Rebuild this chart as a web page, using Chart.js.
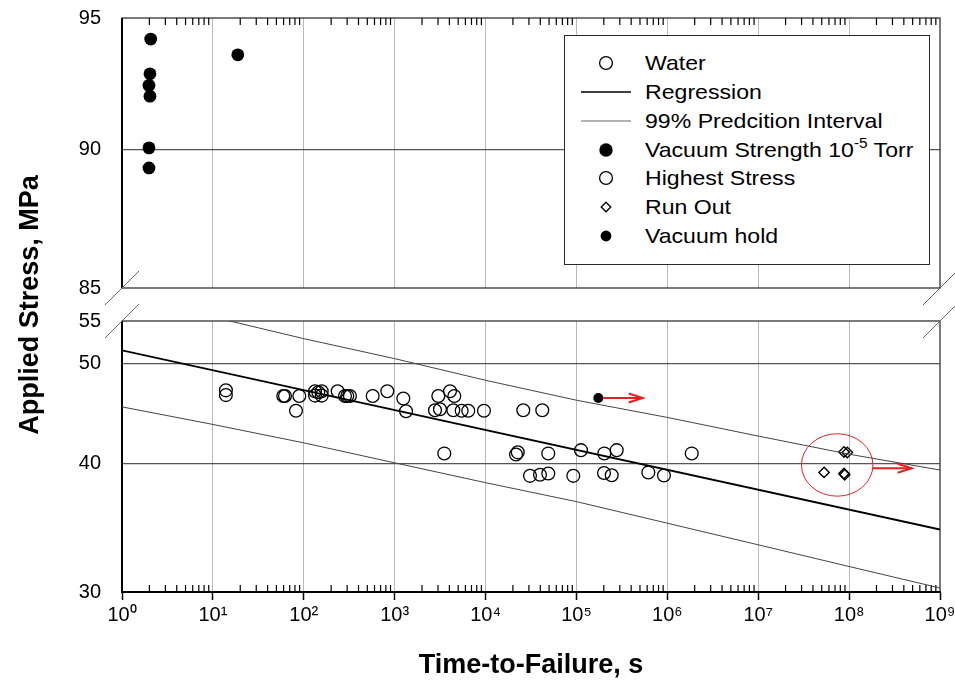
<!DOCTYPE html>
<html>
<head>
<meta charset="utf-8">
<script src="https://cdn.jsdelivr.net/npm/chart.js@4.4.1/dist/chart.umd.min.js"></script>
<style>
  html, body { margin:0; padding:0; background:#fff; }
  #wrap { position:relative; width:955px; height:688px; overflow:hidden; background:#fff;
          font-family:'Liberation Sans', Arial, Helvetica, sans-serif; }
  #wrap canvas { position:absolute; left:0; top:0; }
  #legend { position:absolute; left:564px; top:35px; width:364px; height:228px;
            border:1.6px solid #2a2a2a; background:#fff; }
  .lg-row { position:absolute; left:0; width:100%; height:28px; }
  .lg-sym { position:absolute; left:14px; top:0; width:54px; height:28px; }
  .lg-text { position:absolute; left:80px; top:0; line-height:28px; font-size:21px; color:#000;
             white-space:nowrap; transform:scaleX(1.1); transform-origin:0 50%; }
  .lg-text sup { font-size:14px; vertical-align:0; position:relative; top:-9px; }
</style>
</head>
<body>
<div id="wrap">
  <canvas id="bottomChart" width="955" height="688"></canvas>
  <canvas id="topChart" width="955" height="688"></canvas>
  <div id="legend"></div>
</div>
<script>
// ---------------- data ----------------
const xDecades = [1, 10, 100, 1e3, 1e4, 1e5, 1e6, 1e7, 1e8, 1e9];
const minorMultipliers = [2, 3, 4, 5, 6, 7, 8, 9];
const topYTicks = [85, 90, 95];
const bottomYTicks = [30, 40, 50, 55];
const topYGrid = [90];
const bottomYGrid = [40, 50];

const xTitle = 'Time-to-Failure, s';
const yTitle = 'Applied Stress, MPa';

// Water (open circles)
const waterTime = [13.9, 59.5, 62.1, 89.3, 82.1, 132.9, 157.5, 284, 301, 322, 573, 1245, 1333,
  3020, 4530, 2778, 3153, 4418, 5459, 6455, 9608, 26000, 42070, 3516, 21630, 22590, 48980,
  112200, 30830, 39700, 49000, 92300, 201000, 244300, 202500, 277300, 617600, 918000, 1855000];
const waterStress = [46.6, 46.5, 46.5, 46.5, 45.0, 46.55, 46.55, 46.5, 46.5, 46.5, 46.5, 46.25, 44.95,
  46.5, 46.5, 45.05, 45.15, 45.05, 45.0, 45.0, 45.0, 45.05, 45.05, 40.9, 40.8, 41.0, 40.9,
  41.2, 38.9, 39.0, 39.1, 38.9, 39.15, 38.95, 40.9, 41.2, 39.2, 38.93, 40.9];

// Highest Stress (open circles)
const highestTime = [13.9, 132.9, 144.5, 157.5, 236, 830, 4063];
const highestStress = [47.1, 47.0, 46.9, 47.0, 47.0, 47.0, 47.0];

// Vacuum Strength 10^-5 Torr (large filled circles, upper panel)
const vacuumTime = [2.07, 2.03, 1.98, 2.03, 1.98, 1.98, 18.8];
const vacuumStress = [94.18, 92.84, 92.40, 91.99, 90.05, 89.31, 93.57];

// Vacuum hold (small filled circle)
const holdTime = [1.74e5];
const holdStress = [46.3];

// Run Out (diamonds)
const runOutTime = [8.79e7, 9.55e7, 5.30e7, 8.79e7, 8.94e7];
const runOutStress = [41.03, 40.98, 39.2, 39.11, 38.99];

// Regression and 99% prediction interval
const regTime = [1, 1e9];
const regStress = [51.5, 34.5];
const piTime = xDecades;
const piUpper = [58.5, 55.5, 52.87, 50.56, 48.17, 46.07, 44.33, 42.52, 40.83, 39.41];
const piLower = [45.39, 43.64, 41.88, 40.05, 38.31, 36.72, 34.99, 33.34, 31.76, 30.27];

// red annotations (data coordinates)
const holdArrowTime = [1.96e5, 5.36e5];
const holdArrowStress = 46.3;
const runOutArrowTime = [1.82e8, 4.88e8];
const runOutArrowStress = 39.56;
const runOutRingTime = [2.99e7, 1.83e8];
const runOutRingStress = [37.17, 42.74];

// ---------------- helpers ----------------
const FONT = "'Liberation Sans', Arial, Helvetica, sans-serif";
const SUP = ['\u2070','\u00B9','\u00B2','\u00B3','\u2074','\u2075','\u2076','\u2077','\u2078','\u2079'];
const supExp = v => String(Math.round(Math.log10(v))).split('').map(d => SUP[+d]).join('');
const pts = (xs, ys) => xs.map((x, i) => ({x: x, y: ys[i]}));
const xMin = xDecades[0], xMax = xDecades[xDecades.length - 1];
const CLEAR = 'rgba(0,0,0,0)';
const minorValues = [];
xDecades.slice(0, -1).forEach(d => minorMultipliers.forEach(m => minorValues.push(d * m)));

// minor log ticks drawn as vertical 'line' markers sitting on the panel edge,
// clipped to the plot area so only the inner half shows
const minorTickSet = yEdge => ({
  label: 'minor ticks', data: minorValues.map(v => ({x: v, y: yEdge})),
  pointStyle: 'line', pointRotation: 90, pointRadius: 7, pointBorderWidth: 1.2,
  pointBorderColor: '#000', pointBackgroundColor: '#000', showLine: false, clip: 0
});

function makeFramePlugin(panel, topArea) {
  const isTop = panel === 'top';
  return {
    id: 'frame' + panel,
    beforeDatasetsDraw(chart) {
      const {ctx, chartArea: a} = chart;
      ctx.save();
      ctx.strokeStyle = '#333'; ctx.lineWidth = 1.3;
      ctx.strokeRect(a.left, a.top, a.right - a.left, a.bottom - a.top);
      ctx.strokeStyle = '#000'; ctx.lineWidth = 2;
      ctx.beginPath();
      ctx.moveTo(a.left, a.top); ctx.lineTo(a.left, a.bottom + (isTop ? 0 : 1));
      if (!isTop) { ctx.moveTo(a.left - 1, a.bottom); ctx.lineTo(a.right + 1, a.bottom); }
      ctx.stroke();
      // axis-break marks
      ctx.strokeStyle = '#666'; ctx.lineWidth = 1;
      const cy = isTop ? a.bottom : a.top;
      ctx.beginPath();
      [a.left, a.right].forEach(cx => { ctx.moveTo(cx - 17, cy + 17); ctx.lineTo(cx + 17, cy - 17); });
      ctx.stroke();
      ctx.restore();
    },
    afterDatasetsDraw(chart) {
      if (isTop) return;
      const {ctx, scales: {x, y}} = chart;
      ctx.save();
      ctx.strokeStyle = '#e42121';
      const l = x.getPixelForValue(runOutRingTime[0]), r = x.getPixelForValue(runOutRingTime[1]);
      const t = y.getPixelForValue(runOutRingStress[1]), b = y.getPixelForValue(runOutRingStress[0]);
      ctx.lineWidth = 1;
      ctx.beginPath();
      ctx.ellipse((l + r) / 2, (t + b) / 2, (r - l) / 2, (b - t) / 2, 0, 0, Math.PI * 2);
      ctx.stroke();
      ctx.lineWidth = 2;
      [[holdArrowTime, holdArrowStress], [runOutArrowTime, runOutArrowStress]].forEach(([ts, s]) => {
        const x1 = x.getPixelForValue(ts[0]), x2 = x.getPixelForValue(ts[1]), yy = y.getPixelForValue(s);
        ctx.beginPath(); ctx.moveTo(x1, yy); ctx.lineTo(x2, yy); ctx.stroke();
        ctx.beginPath(); ctx.moveTo(x2 - 14, yy - 4.5); ctx.lineTo(x2, yy); ctx.lineTo(x2 - 14, yy + 4.5); ctx.stroke();
      });
      ctx.restore();
    },
    afterDraw(chart) {
      if (isTop || !topArea) return;
      const {ctx, chartArea: a} = chart;
      ctx.save();
      const yc = (topArea.top + a.bottom) / 2;
      ctx.translate(37.5, yc);
      ctx.rotate(-Math.PI / 2);
      ctx.font = 'bold 27px ' + FONT;
      ctx.fillStyle = '#000';
      ctx.textAlign = 'center';
      ctx.textBaseline = 'alphabetic';
      ctx.fillText(yTitle, 0, 0);
      ctx.restore();
    }
  };
}

function makeOptions(panel) {
  const isTop = panel === 'top';
  const yTicks = isTop ? topYTicks : bottomYTicks;
  const yGrid = isTop ? topYGrid : bottomYGrid;
  return {
    responsive: false, animation: false, events: [],
    layout: { padding: isTop ? {left: 0, right: 15, top: 18, bottom: 400}
                             : {left: 0, right: 15, top: 321, bottom: 0} },
    plugins: { legend: {display: false}, tooltip: {enabled: false} },
    scales: {
      x: {
        type: 'logarithmic', min: xMin, max: xMax, position: 'bottom',
        afterBuildTicks(s) { s.ticks = xDecades.map(v => ({value: v, major: true})); },
        afterFit(s) { s.paddingLeft = 0; s.paddingRight = 0; s.height = isTop ? 0 : 96; },
        grid: {
          color: c => (c.tick && c.tick.value > xMin && c.tick.value < xMax) ? '#b8b8b8' : CLEAR,
          lineWidth: 1, drawTicks: !isTop, tickLength: 8, tickWidth: 1.5, tickColor: '#000'
        },
        border: {display: false},
        ticks: {
          display: !isTop, autoSkip: false, maxRotation: 0, minRotation: 0, padding: 3,
          color: '#000', font: {family: FONT, size: 20},
          callback: v => '10' + supExp(v)
        },
        title: { display: !isTop, text: xTitle, color: '#000',
                 font: {family: FONT, size: 27, weight: 'bold'}, padding: {top: 0, bottom: 6} }
      },
      y: {
        type: 'logarithmic', min: yTicks[0], max: yTicks[yTicks.length - 1],
        afterBuildTicks(s) { s.ticks = yTicks.map(v => ({value: v})); },
        afterFit(s) { s.width = 122; s.paddingTop = 0; s.paddingBottom = 0; },
        grid: { color: c => (c.tick && yGrid.includes(c.tick.value)) ? '#555' : CLEAR,
                lineWidth: 1.2, drawTicks: false },
        border: {display: false},
        ticks: { padding: 21, color: '#000', font: {family: FONT, size: 20}, autoSkip: false,
                 callback: v => String(v) }
      }
    }
  };
}

const openCircle = {pointStyle: 'circle', pointRadius: 6.4, pointBorderWidth: 1.3,
                    pointBorderColor: '#000', pointBackgroundColor: CLEAR, showLine: false};

// ---------------- top panel ----------------
const topChart = new Chart(document.getElementById('topChart'), {
  type: 'scatter',
  data: { datasets: [
    { label: 'Vacuum Strength 10^-5 Torr', data: pts(vacuumTime, vacuumStress),
      pointStyle: 'circle', pointRadius: 6.4, pointBorderWidth: 0, pointBackgroundColor: '#000', showLine: false },
    minorTickSet(topYTicks[topYTicks.length - 1])
  ]},
  options: makeOptions('top'),
  plugins: [makeFramePlugin('top')]
});

// ---------------- bottom panel ----------------
const bottomChart = new Chart(document.getElementById('bottomChart'), {
  type: 'scatter',
  data: { datasets: [
    { label: '99% Predcition Interval', data: pts(piTime, piUpper), showLine: true,
      borderColor: '#444', borderWidth: 1, pointRadius: 0, tension: 0 },
    { label: '99% Predcition Interval (lower)', data: pts(piTime, piLower), showLine: true,
      borderColor: '#444', borderWidth: 1, pointRadius: 0, tension: 0 },
    { label: 'Regression', data: pts(regTime, regStress), showLine: true,
      borderColor: '#000', borderWidth: 1.8, pointRadius: 0, tension: 0 },
    Object.assign({ label: 'Water', data: pts(waterTime, waterStress) }, openCircle),
    Object.assign({ label: 'Highest Stress', data: pts(highestTime, highestStress) }, openCircle),
    { label: 'Run Out', data: pts(runOutTime, runOutStress), pointStyle: 'rectRot', pointRadius: 5.2,
      pointBorderWidth: 1.4, pointBorderColor: '#000', pointBackgroundColor: CLEAR, showLine: false },
    { label: 'Vacuum hold', data: pts(holdTime, holdStress), pointStyle: 'circle', pointRadius: 5,
      pointBorderWidth: 0, pointBackgroundColor: '#000', showLine: false },
    minorTickSet(bottomYTicks[0])
  ]},
  options: makeOptions('bottom'),
  plugins: [makeFramePlugin('bottom', topChart.chartArea)]
});

// ---------------- legend (HTML) ----------------
const legendItems = [
  {text: 'Water', sym: 'open'},
  {text: 'Regression', sym: 'line'},
  {text: '99% Predcition Interval', sym: 'thin'},
  {text: 'Vacuum Strength 10^-5 Torr', sym: 'big'},
  {text: 'Highest Stress', sym: 'open'},
  {text: 'Run Out', sym: 'diamond'},
  {text: 'Vacuum hold', sym: 'small'}
];
const symSvg = {
  open: '<circle cx="27" cy="14" r="6.4" fill="none" stroke="#000" stroke-width="1.3"/>',
  line: '<line x1="2" y1="14" x2="52" y2="14" stroke="#000" stroke-width="1.6"/>',
  thin: '<line x1="2" y1="14" x2="52" y2="14" stroke="#666" stroke-width="1"/>',
  big: '<circle cx="27" cy="14" r="6.7" fill="#000"/>',
  diamond: '<polygon points="27,9.2 31.8,14 27,18.8 22.2,14" fill="none" stroke="#000" stroke-width="1.3"/>',
  small: '<circle cx="27" cy="14" r="5.4" fill="#000"/>'
};
const lg = document.getElementById('legend');
legendItems.forEach((it, i) => {
  const row = document.createElement('div');
  row.className = 'lg-row';
  row.style.top = (12.8 + i * 28.9) + 'px';
  const txt = it.text.replace(/\^(-?\d+)/, '<sup>$1</sup>');
  row.innerHTML = '<svg class="lg-sym" width="54" height="28">' + symSvg[it.sym] + '</svg>' +
                  '<span class="lg-text">' + txt + '</span>';
  lg.appendChild(row);
});
</script>
</body>
</html>
